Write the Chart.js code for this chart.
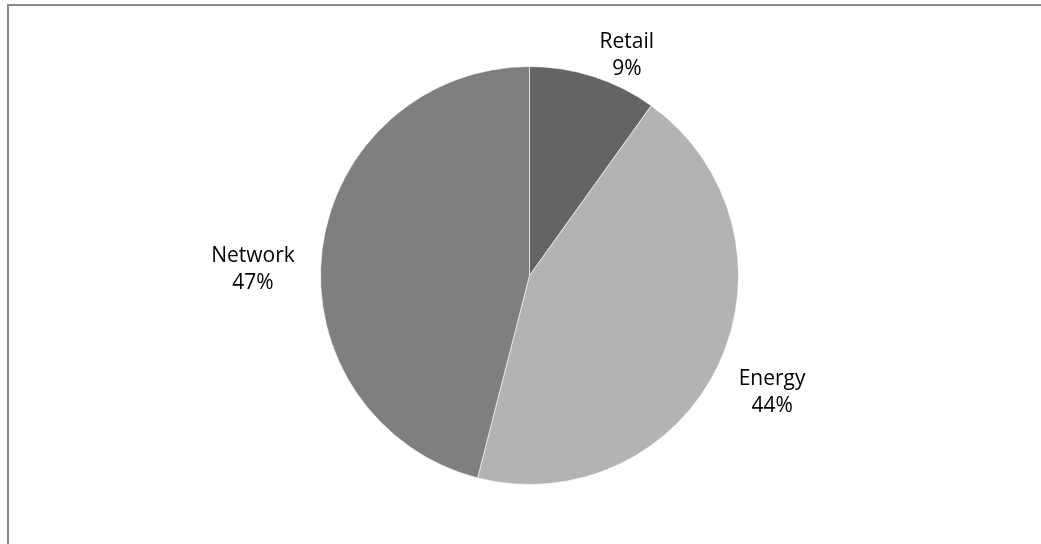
<!DOCTYPE html>
<html>
<head>
<meta charset="utf-8">
<script src="https://cdn.jsdelivr.net/npm/chart.js@4.4.1/dist/chart.umd.min.js"></script>
<style>
  html, body { margin: 0; padding: 0; background: #fff; overflow: hidden; }
  #frame { position: absolute; left: 7px; top: 4px; width: 1100px; height: 600px;
           border-top: 2px solid #8a8a8a; border-left: 2px solid #8a8a8a; }
  #pie { position: absolute; left: 0; top: 0; }
</style>
</head>
<body>
<div id="frame"></div>
<canvas id="pie" width="1041" height="544"></canvas>
<script>
const categories = ['Retail', 'Energy', 'Network'];
const shares = [9.9, 44.1, 46.0];
const pctLabels = ['9%', '44%', '47%'];
const sliceColors = ['#646464', '#b3b3b3', '#7f7f7f'];
// label placement relative to each slice's middle angle
const labelDist = [241, 269.5, 276.6];
const labelShift = [6.0, 0.8, -6.0];

const sliceLabels = {
    id: 'sliceLabels',
    afterDatasetsDraw(chart) {
        const ctx = chart.ctx;
        const meta = chart.getDatasetMeta(0);
        ctx.save();
        ctx.font = '21px "Open Sans"';
        ctx.fillStyle = '#000';
        ctx.textAlign = 'center';
        ctx.textBaseline = 'middle';
        meta.data.forEach((arc, i) => {
            const p = arc.getProps(['x', 'y', 'startAngle', 'endAngle'], true);
            const mid = (p.startAngle + p.endAngle) / 2 + labelShift[i] * Math.PI / 180;
            const cx = p.x + Math.cos(mid) * labelDist[i];
            const cy = p.y + Math.sin(mid) * labelDist[i];
            ctx.fillText(categories[i], cx, cy - 13.5);
            ctx.fillText(pctLabels[i], cx, cy + 13.5);
        });
        ctx.restore();
    }
};

new Chart(document.getElementById('pie'), {
    type: 'pie',
    data: {
        labels: categories,
        datasets: [{ data: shares, backgroundColor: sliceColors, borderColor: 'rgba(255,255,255,0.6)', borderWidth: 1 }]
    },
    options: {
        responsive: false,
        animation: false,
        layout: { padding: { top: 66, bottom: 59, left: 18, right: 0 } },
        plugins: { legend: { display: false }, tooltip: { enabled: false } }
    },
    plugins: [sliceLabels]
});
</script>
</body>
</html>
